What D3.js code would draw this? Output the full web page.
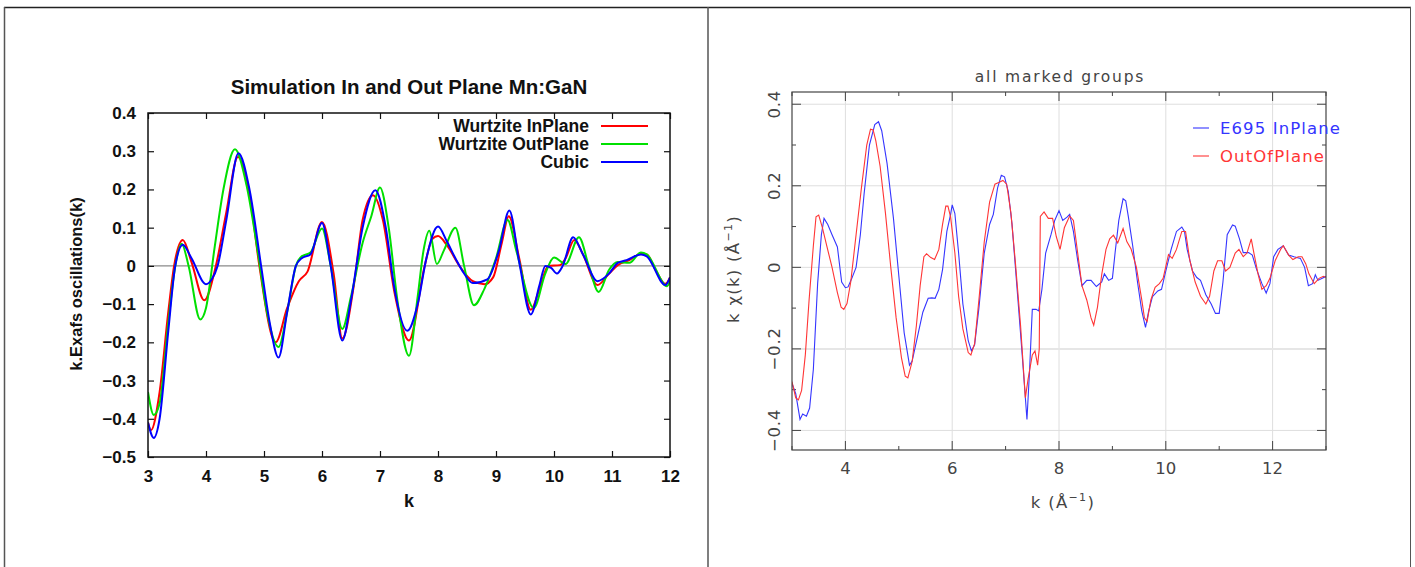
<!DOCTYPE html>
<html>
<head>
<meta charset="utf-8">
<script src="https://cdn.jsdelivr.net/npm/d3@7"></script>
<style>
  body { margin: 0; background: #fff; }
  svg { display: block; }
</style>
</head>
<body>
<svg id="chart" width="1415" height="567"></svg>
<script>
// ---- left panel: simulation ----
var kIn = [3.0, 3.05, 3.2, 3.35, 3.45, 3.6, 3.75, 3.97, 4.17, 4.35, 4.55, 4.75, 4.92, 5.2, 5.4, 5.6, 5.75, 6.0, 6.2, 6.35, 6.55, 6.7, 6.88, 7.05, 7.25, 7.5, 7.77, 7.9, 8.0, 8.15, 8.37, 8.6, 8.8, 8.95, 9.1, 9.22, 9.4, 9.6, 9.75, 9.9, 10.1, 10.2, 10.35, 10.5, 10.75, 10.95, 11.1, 11.3, 11.5, 11.6, 11.75, 11.92, 12.0];
var inPlane = [-0.41, -0.43, -0.33, -0.12, 0.0, 0.068, 0.01, -0.09, 0.0, 0.14, 0.285, 0.19, 0.0, -0.2, -0.11, -0.04, -0.015, 0.115, -0.02, -0.19, -0.05, 0.12, 0.185, 0.12, -0.07, -0.195, 0.0, 0.07, 0.078, 0.055, 0.0, -0.04, -0.048, -0.03, 0.06, 0.13, 0.02, -0.115, -0.06, 0.0, 0.002, 0.02, 0.068, 0.03, -0.05, -0.02, 0.002, 0.015, 0.032, 0.03, -0.01, -0.047, -0.03];

var kOut = [3.0, 3.1, 3.2, 3.35, 3.45, 3.58, 3.7, 3.9, 4.0, 4.15, 4.3, 4.5, 4.7, 4.9, 5.05, 5.25, 5.4, 5.55, 5.65, 5.8, 6.0, 6.15, 6.35, 6.5, 6.7, 6.85, 7.0, 7.15, 7.3, 7.5, 7.65, 7.75, 7.85, 7.98, 8.1, 8.3, 8.45, 8.62, 8.8, 9.0, 9.2, 9.35, 9.65, 9.85, 10.0, 10.2, 10.43, 10.6, 10.77, 10.95, 11.1, 11.3, 11.5, 11.6, 11.95, 12.0];
var outPlane = [-0.33, -0.39, -0.36, -0.15, -0.02, 0.058, 0.0, -0.14, -0.11, 0.05, 0.2, 0.305, 0.21, 0.03, -0.12, -0.212, -0.12, 0.0, 0.025, 0.035, 0.098, 0.0, -0.165, -0.08, 0.06, 0.13, 0.205, 0.1, -0.09, -0.235, -0.08, 0.04, 0.092, 0.005, 0.04, 0.1, 0.0, -0.103, -0.06, 0.02, 0.12, 0.04, -0.11, -0.02, 0.022, 0.005, 0.075, 0.0, -0.068, -0.01, 0.01, 0.008, 0.035, 0.03, -0.053, -0.04];

var kCub = [3.0, 3.1, 3.2, 3.35, 3.47, 3.6, 3.75, 4.0, 4.1, 4.2, 4.35, 4.56, 4.75, 4.95, 5.1, 5.25, 5.4, 5.55, 5.65, 5.8, 6.0, 6.15, 6.35, 6.5, 6.7, 6.92, 7.1, 7.25, 7.47, 7.65, 7.8, 8.0, 8.15, 8.3, 8.45, 8.6, 8.85, 9.05, 9.23, 9.4, 9.6, 9.75, 9.85, 9.95, 10.05, 10.15, 10.33, 10.5, 10.75, 10.95, 11.1, 11.25, 11.5, 11.6, 11.92, 12.0];
var cubic = [-0.41, -0.45, -0.4, -0.17, 0.0, 0.055, 0.02, -0.048, -0.035, 0.0, 0.12, 0.295, 0.2, 0.0, -0.15, -0.24, -0.12, 0.0, 0.02, 0.03, 0.112, 0.0, -0.195, -0.09, 0.1, 0.198, 0.1, -0.06, -0.17, -0.1, 0.02, 0.103, 0.065, 0.02, -0.02, -0.045, -0.035, 0.04, 0.145, 0.01, -0.127, -0.05, 0.0, -0.005, -0.02, 0.0, 0.075, 0.03, -0.04, -0.02, 0.008, 0.015, 0.03, 0.025, -0.05, -0.03];

var simNames = ['Wurtzite InPlane', 'Wurtzite OutPlane', 'Cubic'];
var simColors = ['#ff0000', '#00e000', '#0000ff'];
var simTicksX = [3, 4, 5, 6, 7, 8, 9, 10, 11, 12];
var simTicksY = [-0.5, -0.4, -0.3, -0.2, -0.1, 0, 0.1, 0.2, 0.3, 0.4];

// ---- right panel: measured ----
var kE695 = [3.0, 3.07, 3.15, 3.2, 3.27, 3.33, 3.4, 3.48, 3.55, 3.6, 3.67, 3.75, 3.85, 3.93, 4.0, 4.05, 4.12, 4.2, 4.28, 4.35, 4.45, 4.55, 4.62, 4.68, 4.78, 4.9, 5.0, 5.1, 5.2, 5.25, 5.35, 5.45, 5.55, 5.62, 5.68, 5.75, 5.82, 5.9, 5.97, 6.0, 6.05, 6.12, 6.2, 6.3, 6.36, 6.42, 6.5, 6.6, 6.7, 6.77, 6.85, 6.92, 6.98, 7.05, 7.12, 7.2, 7.3, 7.37, 7.4, 7.45, 7.5, 7.57, 7.62, 7.68, 7.75, 7.85, 7.92, 8.0, 8.07, 8.15, 8.2, 8.27, 8.35, 8.43, 8.52, 8.6, 8.7, 8.8, 8.85, 8.93, 9.0, 9.05, 9.12, 9.2, 9.25, 9.3, 9.38, 9.47, 9.55, 9.62, 9.68, 9.75, 9.85, 9.92, 10.0, 10.1, 10.2, 10.3, 10.35, 10.4, 10.5, 10.58, 10.65, 10.75, 10.85, 10.93, 11.0, 11.07, 11.15, 11.25, 11.3, 11.38, 11.45, 11.55, 11.62, 11.7, 11.8, 11.88, 11.95, 12.02, 12.1, 12.2, 12.3, 12.4, 12.52, 12.6, 12.67, 12.75, 12.8, 12.85, 12.93, 13.0];
var e695InPlane = [-0.285, -0.31, -0.373, -0.36, -0.365, -0.345, -0.25, -0.04, 0.08, 0.12, 0.105, 0.08, 0.05, -0.036, -0.05, -0.048, -0.027, 0.0, 0.08, 0.18, 0.3, 0.35, 0.357, 0.335, 0.255, 0.12, -0.02, -0.16, -0.24, -0.23, -0.17, -0.11, -0.076, -0.075, -0.076, -0.054, -0.005, 0.088, 0.13, 0.153, 0.132, 0.035, -0.09, -0.18, -0.205, -0.19, -0.1, 0.035, 0.105, 0.13, 0.195, 0.226, 0.222, 0.186, 0.106, -0.027, -0.196, -0.32, -0.373, -0.25, -0.103, -0.103, -0.107, -0.054, 0.035, 0.08, 0.115, 0.139, 0.115, 0.123, 0.13, 0.088, 0.017, -0.045, -0.032, -0.032, -0.047, -0.036, -0.016, -0.032, -0.027, 0.035, 0.115, 0.168, 0.163, 0.123, 0.053, -0.036, -0.107, -0.147, -0.107, -0.072, -0.058, -0.054, -0.009, 0.044, 0.088, 0.099, 0.088, 0.044, -0.009, -0.025, -0.032, -0.067, -0.09, -0.113, -0.113, -0.036, 0.08, 0.104, 0.101, 0.07, 0.036, 0.036, 0.03, -0.005, -0.04, -0.063, -0.04, 0.026, 0.044, 0.053, 0.03, 0.026, 0.022, 0.0, -0.045, -0.04, -0.018, -0.032, -0.027, -0.022];

var kOOP = [3.0, 3.07, 3.12, 3.18, 3.25, 3.32, 3.4, 3.45, 3.5, 3.57, 3.65, 3.75, 3.85, 3.92, 3.97, 4.03, 4.1, 4.2, 4.3, 4.4, 4.47, 4.52, 4.57, 4.65, 4.75, 4.85, 4.95, 5.05, 5.12, 5.17, 5.25, 5.33, 5.4, 5.47, 5.52, 5.6, 5.67, 5.75, 5.82, 5.88, 5.92, 5.97, 6.05, 6.12, 6.2, 6.3, 6.35, 6.42, 6.5, 6.6, 6.7, 6.8, 6.87, 6.95, 7.02, 7.1, 7.18, 7.28, 7.37, 7.42, 7.5, 7.55, 7.6, 7.63, 7.65, 7.72, 7.8, 7.88, 7.95, 8.02, 8.1, 8.2, 8.27, 8.35, 8.43, 8.52, 8.6, 8.65, 8.72, 8.8, 8.88, 8.95, 9.02, 9.1, 9.2, 9.27, 9.35, 9.45, 9.55, 9.6, 9.65, 9.72, 9.8, 9.88, 9.95, 10.05, 10.12, 10.2, 10.3, 10.37, 10.45, 10.55, 10.65, 10.75, 10.82, 10.9, 10.97, 11.05, 11.12, 11.2, 11.3, 11.37, 11.45, 11.52, 11.6, 11.65, 11.73, 11.8, 11.88, 11.95, 12.05, 12.15, 12.2, 12.3, 12.38, 12.48, 12.55, 12.62, 12.68, 12.78, 12.87, 12.95, 13.0];
var outOfPlane = [-0.28, -0.32, -0.325, -0.302, -0.214, -0.08, 0.053, 0.124, 0.128, 0.097, 0.053, 0.0, -0.062, -0.098, -0.103, -0.089, -0.036, 0.08, 0.195, 0.3, 0.339, 0.337, 0.31, 0.248, 0.133, 0.0, -0.124, -0.222, -0.267, -0.271, -0.231, -0.142, -0.045, 0.026, 0.033, 0.024, 0.019, 0.044, 0.106, 0.15, 0.15, 0.123, 0.035, -0.071, -0.151, -0.209, -0.215, -0.187, -0.08, 0.062, 0.16, 0.204, 0.208, 0.213, 0.204, 0.133, 0.017, -0.142, -0.32, -0.275, -0.215, -0.205, -0.24, -0.2, 0.125, 0.136, 0.12, 0.12, 0.075, 0.044, 0.097, 0.126, 0.115, 0.035, -0.045, -0.08, -0.124, -0.142, -0.098, -0.018, 0.044, 0.07, 0.079, 0.06, 0.095, 0.063, 0.045, 0.0, -0.08, -0.124, -0.133, -0.08, -0.049, -0.04, -0.027, 0.031, 0.022, 0.044, 0.088, 0.088, 0.017, -0.036, -0.071, -0.09, -0.071, -0.009, 0.016, 0.016, -0.009, 0.0, 0.035, 0.044, 0.026, 0.035, 0.07, 0.035, -0.018, -0.054, -0.045, -0.027, 0.017, 0.044, 0.053, 0.03, 0.019, 0.026, 0.026, 0.009, -0.016, -0.04, -0.027, -0.022, -0.025];

var expNames = ['E695 InPlane', 'OutOfPlane'];
var expColors = ['#3535ff', '#ff3535'];
var expMajorX = [4, 6, 8, 10, 12];
var expMinorX = [3, 4, 5, 6, 7, 8, 9, 10, 11, 12, 13];
var expMajorY = [-0.4, -0.2, 0, 0.2, 0.4];
var expMinorY = [-0.4, -0.3, -0.2, -0.1, 0, 0.1, 0.2, 0.3, 0.4];

function zip(ks, vs) {
  return ks.map(function (k, i) { return [k, vs[i]]; });
}

var svg = d3.select('#chart');

// outer frame and divider
var frame = svg.append('g').attr('stroke', '#222').attr('fill', 'none');
frame.append('line').attr('x1', 4).attr('x2', 1411).attr('y1', 7.5).attr('y2', 7.5).attr('stroke-width', 1.5);
frame.append('line').attr('x1', 4.5).attr('x2', 4.5).attr('y1', 7).attr('y2', 567).attr('stroke', '#555').attr('stroke-width', 1.5);
frame.append('line').attr('x1', 708).attr('x2', 708).attr('y1', 7).attr('y2', 567).attr('stroke', '#555').attr('stroke-width', 1.5);
frame.append('line').attr('x1', 1410.5).attr('x2', 1410.5).attr('y1', 7).attr('y2', 567).attr('stroke', '#555').attr('stroke-width', 1);

// ================= left chart =================
(function () {
  var L = 148, R = 670, T = 113, B = 457;
  var x = d3.scaleLinear().domain([3, 12]).range([L, R]);
  var y = d3.scaleLinear().domain([-0.5, 0.4]).range([B, T]);
  var g = svg.append('g').attr('font-family', 'Liberation Sans, Arial, sans-serif').attr('font-weight', 'bold');

  // zero line
  g.append('line').attr('x1', L).attr('x2', R).attr('y1', y(0)).attr('y2', y(0))
    .attr('stroke', '#8a8a8a').attr('stroke-width', 1.2);

  // ticks pointing inward on every side
  var fmt = function (d) { return d === 0 ? '0' : d3.format('.1f')(d).replace('-', '\u2013'); };
  g.append('g').attr('transform', 'translate(0,' + B + ')')
    .call(d3.axisBottom(x).tickValues(simTicksX).tickSizeInner(-6).tickSizeOuter(0).tickPadding(13).tickFormat(d3.format('d')));
  g.append('g').attr('transform', 'translate(0,' + T + ')')
    .call(d3.axisTop(x).tickValues(simTicksX).tickSizeInner(-6).tickSizeOuter(0).tickFormat(''));
  g.append('g').attr('transform', 'translate(' + L + ',0)')
    .call(d3.axisLeft(y).tickValues(simTicksY).tickSizeInner(-6).tickSizeOuter(0).tickPadding(12).tickFormat(fmt));
  g.append('g').attr('transform', 'translate(' + R + ',0)')
    .call(d3.axisRight(y).tickValues(simTicksY).tickSizeInner(-6).tickSizeOuter(0).tickFormat(''));
  g.selectAll('.domain').remove();
  g.selectAll('.tick line').attr('stroke', '#111').attr('stroke-width', 1.2);
  g.selectAll('.tick text').attr('font-size', 17).attr('font-weight', 'bold').attr('fill', '#111').attr('font-family', 'Liberation Sans, Arial, sans-serif');

  var line = d3.line().x(function (d) { return x(d[0]); }).y(function (d) { return y(d[1]); }).curve(d3.curveMonotoneX);
  var series = [zip(kIn, inPlane), zip(kOut, outPlane), zip(kCub, cubic)];
  var clip = g.append('clipPath').attr('id', 'clipL');
  clip.append('rect').attr('x', L).attr('y', T).attr('width', R - L).attr('height', B - T);
  g.append('g').attr('clip-path', 'url(#clipL)').selectAll('path').data(series).join('path')
    .attr('d', line).attr('fill', 'none').attr('stroke-width', 2)
    .attr('stroke', function (d, i) { return simColors[i]; });

  // box
  g.append('rect').attr('x', L).attr('y', T).attr('width', R - L).attr('height', B - T)
    .attr('fill', 'none').attr('stroke', '#111').attr('stroke-width', 1.5);

  // legend
  var lg = g.append('g');
  simNames.forEach(function (name, i) {
    var yy = 126 + i * 18;
    lg.append('text').attr('x', 589).attr('y', yy + 6).attr('text-anchor', 'end')
      .attr('font-size', 17.5).attr('fill', '#111').text(name);
    lg.append('line').attr('x1', 601).attr('x2', 648).attr('y1', yy).attr('y2', yy)
      .attr('stroke', simColors[i]).attr('stroke-width', 2);
  });

  g.append('text').attr('x', 409).attr('y', 94).attr('text-anchor', 'middle')
    .attr('font-size', 20.5).attr('fill', '#111').text('Simulation In and Out Plane Mn:GaN');
  g.append('text').attr('x', 409).attr('y', 507).attr('text-anchor', 'middle')
    .attr('font-size', 18).attr('fill', '#111').text('k');
  g.append('text').attr('transform', 'translate(82,284) rotate(-90)').attr('text-anchor', 'middle')
    .attr('font-size', 16.5).attr('fill', '#111').text('k.Exafs oscillations(k)');
})();

// ================= right chart =================
(function () {
  var L = 792, R = 1326, T = 92, B = 450;
  var x = d3.scaleLinear().domain([3, 13]).range([L, R]);
  var y = d3.scaleLinear().domain([-0.448, 0.43]).range([B, T]);
  var g = svg.append('g').attr('font-family', 'DejaVu Sans, Liberation Sans, sans-serif');

  // grid
  g.append('g').selectAll('line').data(expMajorX).join('line')
    .attr('x1', x).attr('x2', x).attr('y1', T).attr('y2', B)
    .attr('stroke', '#dedede').attr('stroke-width', 1);
  g.append('g').selectAll('line').data(expMajorY).join('line')
    .attr('x1', L).attr('x2', R).attr('y1', y).attr('y2', y)
    .attr('stroke', function (d) { return d === -0.2 ? '#e6e6e6' : '#dedede'; })
    .attr('stroke-width', function (d) { return d === -0.2 ? 2 : 1; });

  // ticks: long at labelled values, short in between
  function tickLen(d, majors) { return majors.some(function (m) { return Math.abs(m - d) < 1e-9; }) ? 9 : 4; }
  var tk = g.append('g').attr('stroke', '#444').attr('stroke-width', 1);
  expMinorX.forEach(function (d) {
    var len = tickLen(d, expMajorX);
    tk.append('line').attr('x1', x(d)).attr('x2', x(d)).attr('y1', B).attr('y2', B - len);
    tk.append('line').attr('x1', x(d)).attr('x2', x(d)).attr('y1', T).attr('y2', T + len);
  });
  expMinorY.forEach(function (d) {
    var len = tickLen(d, expMajorY);
    tk.append('line').attr('x1', L).attr('x2', L + len).attr('y1', y(d)).attr('y2', y(d));
    tk.append('line').attr('x1', R).attr('x2', R - len).attr('y1', y(d)).attr('y2', y(d));
  });

  var line = d3.line().x(function (d) { return x(d[0]); }).y(function (d) { return y(d[1]); });
  var series = [zip(kE695, e695InPlane), zip(kOOP, outOfPlane)];
  var clip = g.append('clipPath').attr('id', 'clipR');
  clip.append('rect').attr('x', L).attr('y', T).attr('width', R - L).attr('height', B - T);
  g.append('g').attr('clip-path', 'url(#clipR)').selectAll('path').data(series).join('path')
    .attr('d', line).attr('fill', 'none').attr('stroke-width', 1.1)
    .attr('stroke', function (d, i) { return expColors[i]; });

  g.append('rect').attr('x', L).attr('y', T).attr('width', R - L).attr('height', B - T)
    .attr('fill', 'none').attr('stroke', '#444').attr('stroke-width', 1.2);

  // tick labels
  var lab = g.append('g').attr('fill', '#444').attr('font-size', 16.5);
  expMajorX.forEach(function (d) {
    lab.append('text').attr('x', x(d)).attr('y', 474).attr('text-anchor', 'middle').text(d);
  });
  expMajorY.forEach(function (d) {
    var s = d === 0 ? '0' : d3.format('.1f')(d).replace('-', '\u2212');
    lab.append('text').attr('transform', 'translate(780,' + y(d) + ') rotate(-90)')
      .attr('text-anchor', 'middle').attr('letter-spacing', 0.8).text(s);
  });

  // legend
  expNames.forEach(function (name, i) {
    var yy = 128 + i * 28;
    g.append('line').attr('x1', 1193).attr('x2', 1209).attr('y1', yy).attr('y2', yy)
      .attr('stroke', expColors[i]).attr('stroke-width', 1.1);
    g.append('text').attr('x', 1220).attr('y', yy + 6).attr('font-size', 16.5)
      .attr('letter-spacing', 1.1).attr('fill', expColors[i]).text(name);
  });

  g.append('text').attr('x', 1060).attr('y', 82).attr('text-anchor', 'middle')
    .attr('font-size', 15.5).attr('letter-spacing', 1.8).attr('fill', '#444').text('all marked groups');

  var xl = g.append('text').attr('x', 1063).attr('y', 508).attr('text-anchor', 'middle')
    .attr('font-size', 16.5).attr('letter-spacing', 1.3).attr('fill', '#444');
  xl.append('tspan').text('k  (\u00c5');
  xl.append('tspan').attr('dy', -7).attr('font-size', 11).text('\u22121');
  xl.append('tspan').attr('dy', 7).text(')');

  var yl = g.append('text').attr('transform', 'translate(739,269) rotate(-90)').attr('text-anchor', 'middle')
    .attr('font-size', 16.5).attr('letter-spacing', 1.3).attr('fill', '#444');
  yl.append('tspan').text('k  \u03c7(k)  (\u00c5');
  yl.append('tspan').attr('dy', -7).attr('font-size', 11).text('\u22121');
  yl.append('tspan').attr('dy', 7).text(')');
})();
</script>
</body>
</html>
